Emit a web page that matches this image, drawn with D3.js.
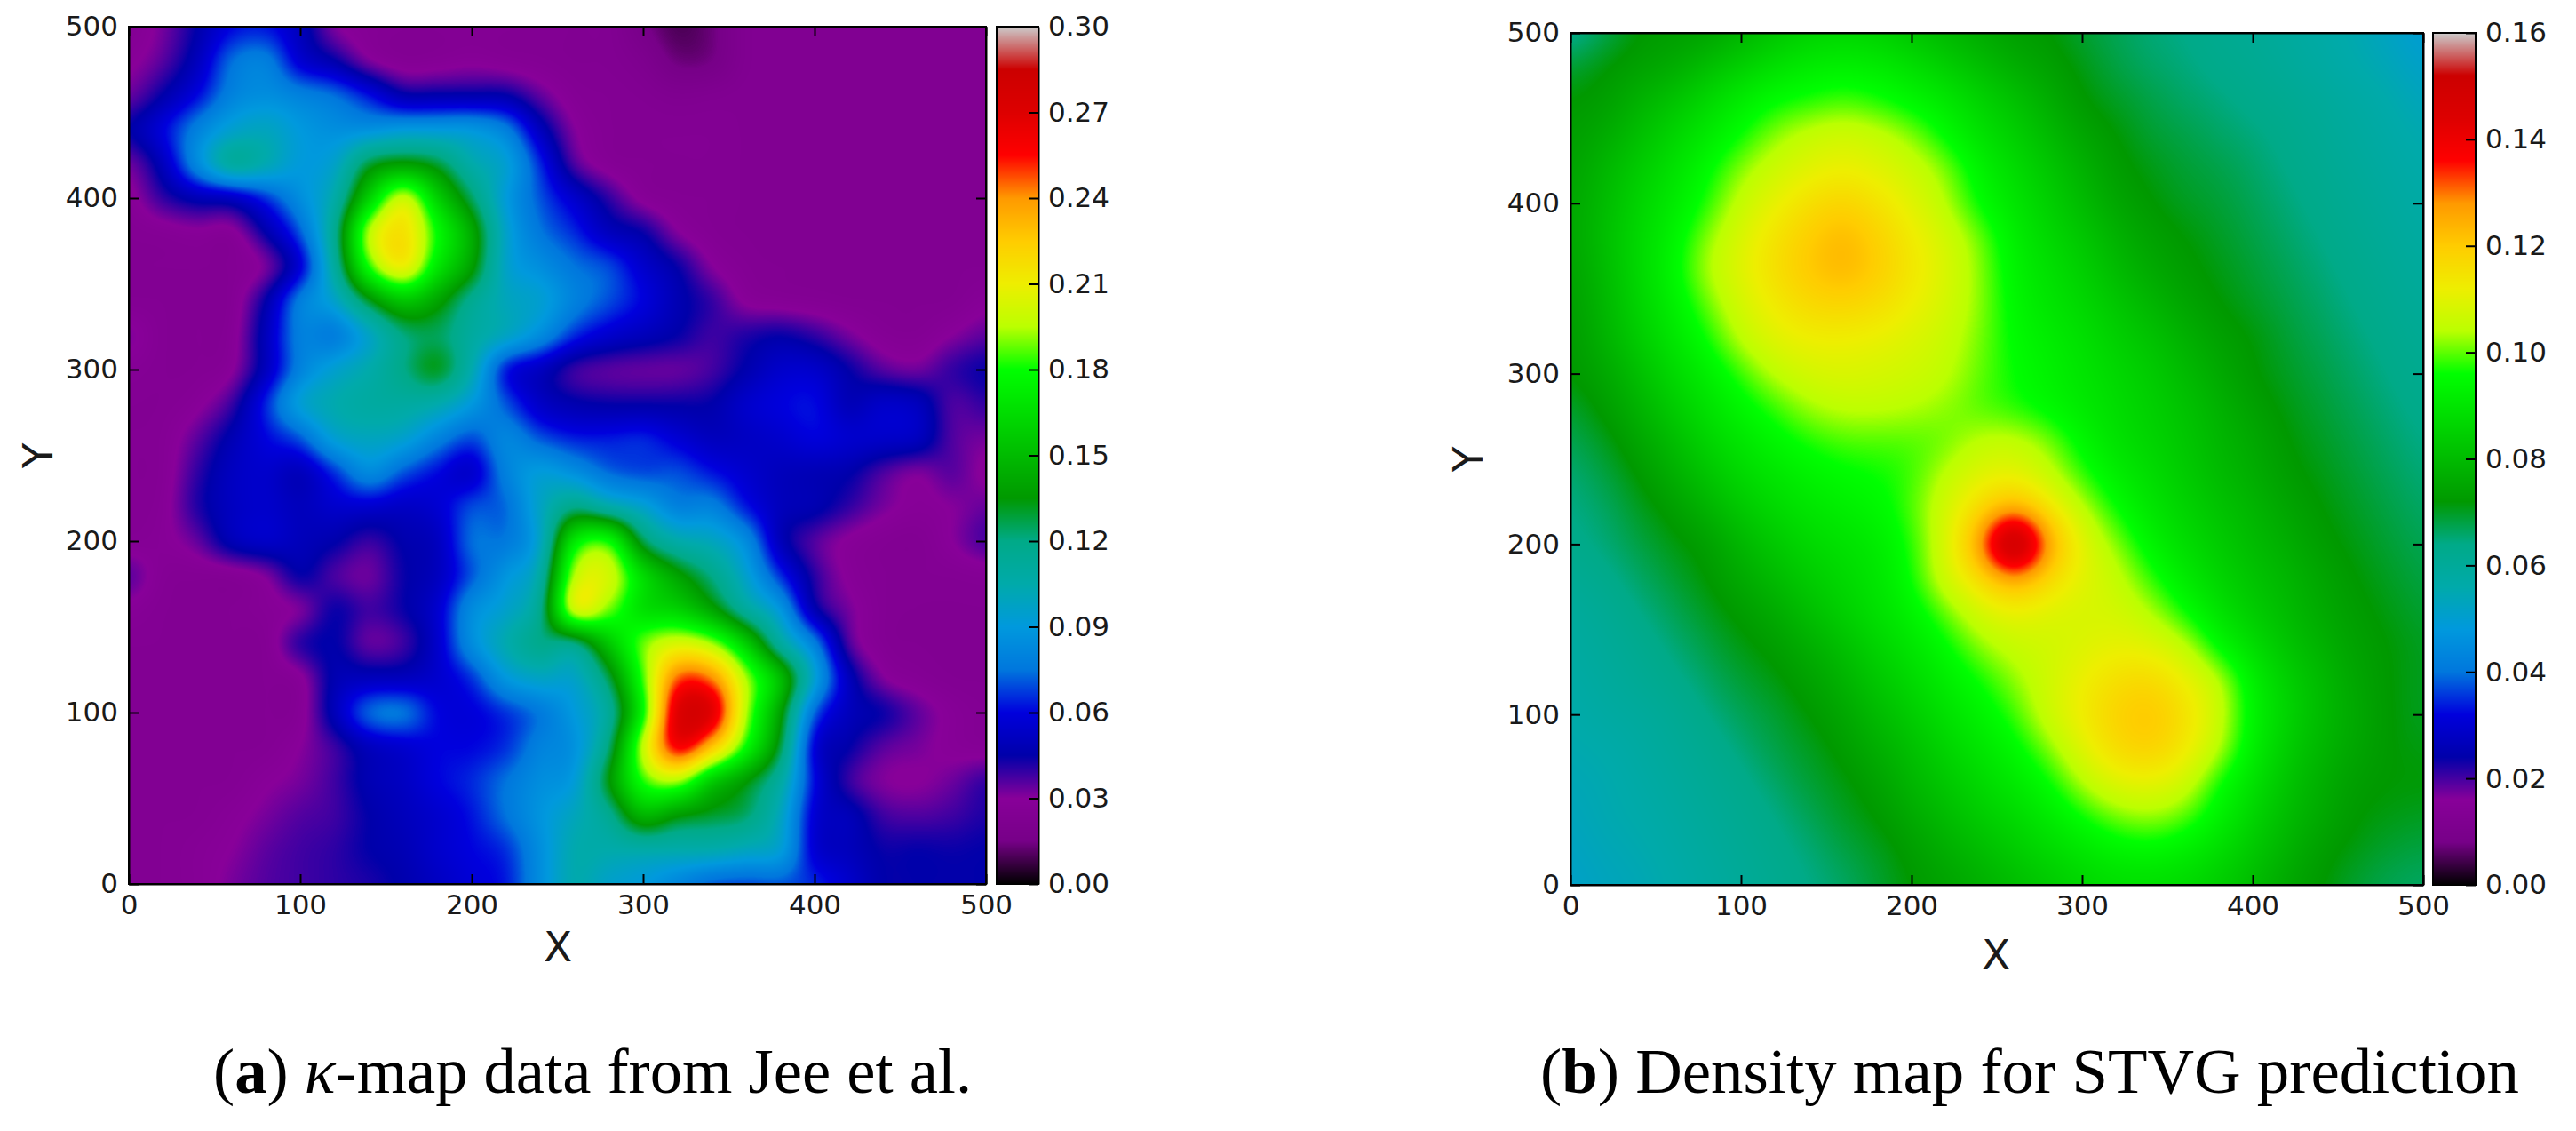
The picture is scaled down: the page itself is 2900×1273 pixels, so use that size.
<!DOCTYPE html>
<html>
<head>
<meta charset="utf-8">
<title>Kappa and density maps</title>
<style>
  html, body { margin: 0; padding: 0; background: #fff; }
  svg { display: block; }
  .axis text { font-family: "DejaVu Sans"; fill: #1a1a1a; }
  .axis path, .axis line { stroke: #000; stroke-width: 2; }
</style>
</head>
<body>
<svg id="svg" width="2900" height="1273"></svg>
<script src="https://d3js.org/d3.v7.min.js"></script>
<script>
// grid positions shared by both maps (data units)
const gridX = d3.range(0, 501, 20)
const gridY = d3.range(500, -1, -20)
const axisTicks = [0, 100, 200, 300, 400, 500]

// panel a, values in units of 0.01, first row is y = 500
const kappaRows = [
  [2.5,3.2,4.5,6,6.2,5,3,2.6,2.5,2.5,2.5,2.5,2.5,2.4,2.4,1.6,0.9,1.3,2.3,2.4,2.4,2.4,2.4,2.4,2.4,2.4],
  [2.8,3.5,5,7.5,8,5.5,4.5,3,2.5,2.6,2.8,2.6,2.5,2.4,2.4,2.1,1.3,1.4,2.3,2.4,2.4,2.4,2.4,2.4,2.4,2.4],
  [3.3,4.5,6,8,8.5,8,7.5,6.2,4.5,4.5,4.5,4.5,3.4,2.6,2.5,2.4,2.2,2.3,2.4,2.4,2.4,2.4,2.4,2.4,2.4,2.4],
  [4.5,6,8,9.5,10,9,8.5,8.5,9,9,9,8,5,3,2.5,2.5,2.5,2.5,2.4,2.4,2.4,2.4,2.4,2.4,2.4,2.4],
  [3.2,5,8.5,11.5,10.5,9,9.5,13,13.8,13,10.5,9.5,6.5,3.5,2.6,2.5,2.5,2.5,2.4,2.4,2.4,2.4,2.4,2.4,2.4,2.4],
  [2.7,4,4.8,5,6.5,8.5,10.5,16,20.5,16,12.5,9,7,5.5,4,2.7,2.5,2.5,2.4,2.4,2.4,2.4,2.4,2.4,2.4,2.4],
  [2.5,2.6,2.8,2.6,4.5,7,11.5,20,22,18,14.5,9.5,7.5,6.5,5,4.5,3,2.5,2.4,2.4,2.4,2.4,2.4,2.4,2.4,2.4],
  [2.5,2.5,2.5,2.5,3,5.5,11,18.5,21.5,17,14,9.5,8.5,7.5,7,5.5,4.5,3,2.5,2.4,2.4,2.4,2.4,2.4,2.4,2.4],
  [2.5,2.5,2.5,2.5,4.5,8,9.5,13,15.5,14,11.5,10,9.5,8,7,6,4.8,4,2.8,2.6,2.5,2.4,2.4,2.4,2.4,2.8],
  [3.2,2.5,2.5,2.6,5,8,7.5,9.5,12,12.5,11,10,8.5,6.5,5.5,5,4.5,3.8,4.2,4.5,4,3.2,2.6,2.5,3,3.5],
  [2.7,2.5,2.5,2.8,5,8,9.5,10.5,12,13.5,10.5,6,5,3.7,3.4,3.3,3.3,3.7,4.6,5.5,5.5,4.5,3.5,3.2,4,4.5],
  [2.5,2.5,2.8,3.8,6.5,9.5,10.5,11,11,10.5,9,7,5.2,4.6,4.4,4.4,4.4,4.5,5.5,6,6.2,4.8,5.5,5.2,3.6,4],
  [2.5,2.6,3.5,4.8,6,7,9.5,10,9.6,8,6.8,8.3,7,6.3,6.3,6.5,5.7,5,5.2,5.5,6,5.6,5.5,5.3,3.6,3.2],
  [2.5,2.6,4,5.2,5.5,4.8,6.5,8.5,7,6,5.2,8,9.3,8.5,7.2,6.8,7,6.2,5.5,5,4.8,4.6,3.6,3,3.6,2.8],
  [2.5,2.7,4.2,5.2,5.5,5,5.5,5.5,5.2,5.6,7,7.2,9.8,12,10.5,9.5,7.8,8,6.2,5,4.8,4,3.2,2.8,3,3.4],
  [2.6,2.8,3.4,5,5.5,5,4.6,3.8,4.6,5,7.5,7.5,9.5,17.5,18.5,12.5,10.5,10,8.5,4.8,3.5,2.8,2.5,2.4,3,3.8],
  [3.6,2.6,2.5,2.5,3,4.6,3.6,3.2,4.4,5,7,8.8,10.5,20,20.5,16.5,14,12,9.5,6.5,4,2.8,2.5,2.5,2.5,2.6],
  [2.8,2.5,2.5,2.5,2.7,3,4.5,3.8,4.4,5.5,8.5,9.5,11.5,21,19,16.5,16,14,11,9,4.5,3.2,2.5,2.4,2.4,2.4],
  [2.5,2.5,2.5,2.5,2.5,4.2,4.6,3.3,3.7,5.4,8.5,10.5,12,11.5,15.5,19,20.5,19.5,16,11,8,3.5,2.5,2.4,2.4,2.4],
  [2.5,2.5,2.5,2.5,2.5,2.7,4.8,5,5,5.5,6.5,9,9.8,9.5,12.5,18.5,25,24.5,19.5,15.5,9.5,5,3,2.6,2.4,2.4],
  [2.5,2.5,2.5,2.5,2.5,2.6,5,7.5,7.8,6,5.8,6.5,7.5,9,11,17.5,27.5,27.5,19.5,14,7,5,4.5,3.5,2.8,2.5],
  [2.5,2.5,2.5,2.5,2.5,3,3.8,5,5.5,6,6,6.5,8,8.5,12,20,26.5,23,18,13,5.5,4.5,3.5,3.2,2.8,2.6],
  [2.5,2.5,2.5,2.5,2.9,3.2,3.8,4.8,5.2,6,6.5,7.5,8.5,9,13.5,18.5,19.5,15.5,13.5,11,6,3.8,3,2.9,3.3,4],
  [2.5,2.5,2.5,2.8,3.2,3.6,3.8,4.5,5,5.5,6.2,7.5,8.8,10,11.5,15,13.5,13,12.5,10,5.5,5,3.8,3.6,3.8,4.2],
  [2.5,2.5,2.7,3,3.5,3.8,4,4.5,4.8,5.5,6,6.5,8.5,10.5,10.5,10.5,10.5,10.5,10,9.5,5.5,5,4.4,4.5,4.4,4.5],
  [2.5,2.5,2.7,3.2,3.6,3.8,4,4.2,4.6,5.2,5.8,6.2,8.5,10.5,9.5,9,8,7,6.8,7,6.5,5.5,4.5,4.5,4.5,4.5]
]

// panel b, same layout
const densityRows = [
  [6.2,6.7,7.2,7.3,7.4,7.8,8.2,8.5,8.6,8.5,8.2,7.9,7.6,7.3,7.2,6.9,6.7,6.5,6.4,6.2,6.1,5.9,5.7,5.5,5.2,4.9],
  [6.9,7.2,7.4,7.6,8.1,8.5,8.9,9.2,9.3,9.2,8.9,8.5,8.1,7.7,7.4,7.1,6.8,6.6,6.5,6.3,6.2,6,5.8,5.6,5.4,5.1],
  [7.2,7.3,7.8,8.2,8.7,9.2,9.6,9.7,9.9,9.7,9.4,9.1,8.6,8.2,7.7,7.2,7,6.8,6.6,6.5,6.3,6.2,6,5.8,5.6,5.3],
  [7.3,7.6,8.1,8.6,9.1,9.6,10.2,10.6,10.8,10.6,10.2,9.5,8.9,8.5,8,7.5,7.2,6.9,6.8,6.6,6.5,6.3,6.1,5.9,5.7,5.5],
  [7.4,7.9,8.4,8.9,9.5,10.2,10.7,11,11.2,11,10.7,10.2,9.3,8.8,8.3,7.8,7.3,7.1,6.9,6.8,6.6,6.4,6.2,6,5.8,5.6],
  [7.5,8,8.6,9.1,9.7,10.6,11.1,11.6,11.9,11.5,11,10.4,9.5,9,8.5,8,7.5,7.2,7,6.9,6.7,6.5,6.3,6.1,5.9,5.7],
  [7.5,8.1,8.7,9.3,10.2,10.9,11.5,12,12.4,11.9,11.3,10.8,10.1,9.2,8.7,8.3,7.8,7.4,7.2,7,6.8,6.6,6.4,6.2,6,5.8],
  [7.4,8,8.7,9.4,10.4,11,11.6,12.1,12.4,12,11.4,10.9,10.2,9.3,8.9,8.5,8,7.6,7.3,7.1,6.9,6.7,6.5,6.3,6.1,5.9],
  [7.3,7.9,8.6,9.2,10,10.8,11.3,11.7,11.8,11.6,11.2,10.8,10.2,9.4,9,8.7,8.3,7.9,7.5,7.2,7,6.8,6.6,6.4,6.2,6],
  [7.2,7.8,8.4,9,9.6,10.5,11,11.2,11.2,11.1,10.9,10.6,10.1,9.5,9.2,8.9,8.5,8.2,7.8,7.4,7.2,6.9,6.7,6.5,6.3,6.1],
  [7.2,7.5,8.1,8.7,9.2,9.8,10.5,10.8,10.9,10.8,10.7,10.5,10,9.6,9.3,9,8.7,8.4,8,7.6,7.2,7,6.8,6.6,6.4,6.2],
  [6.9,7.3,7.8,8.4,8.9,9.4,9.8,10.3,10.5,10.5,10.4,10.2,9.9,9.7,9.4,9.1,8.8,8.5,8.2,7.8,7.4,7.1,6.9,6.7,6.5,6.3],
  [6.7,7,7.5,8,8.6,9,9.4,9.7,9.9,9.9,9.9,10,10.5,10.6,10.2,9.4,8.9,8.6,8.3,7.9,7.6,7.2,7,6.8,6.6,6.4],
  [6.5,6.8,7.2,7.7,8.2,8.7,9,9.3,9.5,9.6,9.8,10.5,11,11.1,10.6,9.8,9.2,8.8,8.4,8,7.7,7.3,7.1,6.9,6.7,6.5],
  [6.4,6.6,7,7.3,7.8,8.3,8.7,9,9.2,9.4,9.9,10.8,11.7,12.7,11.5,10.5,9.6,9,8.6,8.2,7.9,7.5,7.2,7,6.8,6.6],
  [6.3,6.5,6.8,7.1,7.3,7.9,8.3,8.7,8.9,9.1,9.7,10.8,12.7,17.4,12.7,11,10.2,9.3,8.8,8.4,8,7.7,7.3,7.1,6.9,6.7],
  [6.1,6.3,6.6,6.9,7.2,7.6,8,8.4,8.7,9,9.6,10.8,11.6,12.7,11.7,11,10.6,9.8,9.1,8.6,8.2,7.9,7.5,7.2,7,6.8],
  [5.9,6.1,6.4,6.7,7,7.3,7.6,8.1,8.5,8.9,9.3,10,10.8,11.1,10.9,10.8,10.8,10.4,9.6,8.9,8.4,8,7.6,7.3,7.1,6.9],
  [5.8,6,6.2,6.5,6.8,7.1,7.3,7.7,8.1,8.6,9,9.5,10.2,10.6,10.7,10.9,11.1,11,10.6,9.4,8.8,8.2,7.8,7.4,7.2,7],
  [5.7,5.9,6.1,6.3,6.6,6.9,7.1,7.4,7.8,8.3,8.7,9.2,9.6,10.2,10.7,11.2,11.6,11.8,11.2,10.6,9.2,8.5,8,7.5,7.2,7],
  [5.6,5.8,5.9,6.1,6.4,6.7,6.9,7.2,7.5,8,8.4,8.9,9.3,9.8,10.7,11.3,11.9,12.2,11.6,10.7,9.3,8.6,8,7.6,7.2,7],
  [5.5,5.6,5.8,6,6.2,6.5,6.8,7,7.3,7.7,8.1,8.6,9,9.4,10.1,11,11.7,12,11.4,10.5,9.2,8.4,7.9,7.5,7.2,7.1],
  [5.4,5.5,5.7,5.9,6.1,6.3,6.6,6.9,7.1,7.4,7.9,8.3,8.7,9.1,9.5,10.4,11,11.1,10.8,9.6,8.9,8.2,7.7,7.3,7.2,7.2],
  [5.3,5.5,5.6,5.8,6,6.2,6.4,6.7,7,7.2,7.6,8,8.4,8.7,9.1,9.6,10.1,10.3,10,9.3,8.6,8,7.6,7.2,7.1,7],
  [5.2,5.4,5.5,5.7,5.9,6.1,6.3,6.5,6.8,7,7.3,7.7,8,8.4,8.7,9,9.3,9.4,9.2,8.8,8.3,7.8,7.3,7.1,6.9,6.8],
  [5.1,5.3,5.4,5.6,5.8,6,6.2,6.4,6.6,6.9,7.2,7.4,7.7,8,8.3,8.6,8.8,8.8,8.7,8.4,8,7.5,7.2,6.9,6.7,6.6]
]

const kappaBarTicks = [0, 0.03, 0.06, 0.09, 0.12, 0.15, 0.18, 0.21, 0.24, 0.27, 0.30]
const densityBarTicks = [0, 0.02, 0.04, 0.06, 0.08, 0.10, 0.12, 0.14, 0.16]

// nipy_spectral stops
const cmapStops = d3.range(0, 1.01, 0.05)
const cmapColors = ['#000000','#770088','#880099','#0000aa','#0000dd','#0077dd','#0099dd','#00aaaa','#00aa88','#009900',
  '#00bb00','#00dd00','#00ff00','#bbff00','#eeee00','#ffcc00','#ff9900','#ff0000','#dd0000','#cc0000','#cccccc']
const cmap = d3.scaleLinear().domain(cmapStops).range(cmapColors).clamp(true)
const lut = d3.range(1025).map(i => {
  const c = d3.color(cmap(i / 1024))
  return [c.r, c.g, c.b]
})

const FONT = 31
const svg = d3.select('#svg')

// Mitchell-Netravali kernel, used to resample the grid to image pixels
function kernel(x, B, C) {
  x = Math.abs(x)
  if (x < 1) return ((12 - 9 * B - 6 * C) * x * x * x + (-18 + 12 * B + 6 * C) * x * x + (6 - 2 * B)) / 6
  if (x < 2) return ((-B - 6 * C) * x * x * x + (6 * B + 30 * C) * x * x + (-12 * B - 48 * C) * x + (8 * B + 24 * C)) / 6
  return 0
}

function sampleGrid(rows, gx, gy, B, C) {
  const nr = rows.length, nc = rows[0].length
  const ix = Math.floor(gx), iy = Math.floor(gy)
  const tx = gx - ix, ty = gy - iy
  let v = 0
  for (let j = -1; j < 3; j++) {
    const r = rows[Math.min(nr - 1, Math.max(0, iy + j))]
    const wy = kernel(j - ty, B, C)
    for (let i = -1; i < 3; i++) {
      v += wy * kernel(i - tx, B, C) * r[Math.min(nc - 1, Math.max(0, ix + i))]
    }
  }
  return v
}

function drawMap(box, rows, filter, barBox, barTicks, vmax, barFormat, xLabel, yLabel) {
  const w = box.x1 - box.x0, h = box.y1 - box.y0
  const xscale = d3.scaleLinear().domain([0, 500]).range([box.x0, box.x1])
  const yscale = d3.scaleLinear().domain([0, 500]).range([box.y1, box.y0])
  const colX = d3.scaleLinear().domain(d3.extent(gridX)).range([0, gridX.length - 1])
  const rowY = d3.scaleLinear().domain([gridY[0], gridY[gridY.length - 1]]).range([0, gridY.length - 1])
  const norm = d3.scaleLinear().domain([0, vmax]).range([0, 1024]).clamp(true)

  // heat image
  const canvas = document.createElement('canvas')
  canvas.width = w
  canvas.height = h
  const ctx = canvas.getContext('2d')
  const img = ctx.createImageData(w, h)
  for (let j = 0; j < h; j++) {
    const gy = rowY(yscale.invert(box.y0 + j + 0.5))
    for (let i = 0; i < w; i++) {
      const gx = colX(xscale.invert(box.x0 + i + 0.5))
      const v = sampleGrid(rows, gx, gy, filter.B, filter.C) * 0.01
      const c = lut[Math.round(norm(v))]
      const k = (j * w + i) * 4
      img.data[k] = c[0]
      img.data[k + 1] = c[1]
      img.data[k + 2] = c[2]
      img.data[k + 3] = 255
    }
  }
  ctx.putImageData(img, 0, 0)
  svg.append('image')
    .attr('x', box.x0).attr('y', box.y0)
    .attr('width', w).attr('height', h)
    .attr('href', canvas.toDataURL())

  // axes, ticks point inward on all four sides
  const addAxis = (gen, tx, ty, labels) => {
    const g = svg.append('g').attr('class', 'axis')
      .attr('transform', `translate(${tx}, ${ty})`)
      .call(gen.tickValues(axisTicks).tickSizeInner(-11).tickSizeOuter(0).tickPadding(12))
    g.selectAll('text').attr('font-size', FONT)
    if (!labels) g.selectAll('text').remove()
  }
  addAxis(d3.axisBottom(xscale), 0, box.y1, true)
  addAxis(d3.axisLeft(yscale), box.x0, 0, true)
  addAxis(d3.axisTop(xscale), 0, box.y0, false)
  addAxis(d3.axisRight(yscale), box.x1, 0, false)

  svg.append('text')
    .attr('x', xLabel.x).attr('y', xLabel.y)
    .attr('text-anchor', 'middle')
    .attr('font-family', 'DejaVu Sans').attr('font-size', 47).attr('fill', '#1a1a1a')
    .text('X')
  svg.append('text')
    .attr('transform', `translate(${yLabel.x}, ${yLabel.y}) rotate(-90)`)
    .attr('text-anchor', 'middle')
    .attr('font-family', 'DejaVu Sans').attr('font-size', 47).attr('fill', '#1a1a1a')
    .text('Y')

  // colour bar
  const barH = barBox.y1 - barBox.y0
  const barW = barBox.x1 - barBox.x0
  const barScale = d3.scaleLinear().domain([0, vmax]).range([barBox.y1, barBox.y0])
  const barCanvas = document.createElement('canvas')
  barCanvas.width = 1
  barCanvas.height = barH
  const bctx = barCanvas.getContext('2d')
  for (let j = 0; j < barH; j++) {
    bctx.fillStyle = cmap(barScale.invert(barBox.y0 + j + 0.5) / vmax)
    bctx.fillRect(0, j, 1, 1)
  }
  svg.append('image')
    .attr('x', barBox.x0).attr('y', barBox.y0)
    .attr('width', barW).attr('height', barH)
    .attr('preserveAspectRatio', 'none')
    .attr('href', barCanvas.toDataURL())
  const barAxis = svg.append('g').attr('class', 'axis')
    .attr('transform', `translate(${barBox.x1}, 0)`)
    .call(d3.axisRight(barScale).tickValues(barTicks).tickFormat(barFormat)
      .tickSizeInner(-11).tickSizeOuter(0).tickPadding(11))
  barAxis.selectAll('text').attr('font-size', FONT)
  svg.append('rect')
    .attr('x', barBox.x0).attr('y', barBox.y0)
    .attr('width', barW).attr('height', barH)
    .attr('fill', 'none').attr('stroke', '#000').attr('stroke-width', 2)

  svg.append('rect')
    .attr('x', box.x0).attr('y', box.y0)
    .attr('width', w).attr('height', h)
    .attr('fill', 'none').attr('stroke', '#000').attr('stroke-width', 2)
}

drawMap({ x0: 145, x1: 1110, y0: 30, y1: 995 }, kappaRows, { B: 1 / 3, C: 1 / 3 },
  { x0: 1122, x1: 1169, y0: 30, y1: 995 }, kappaBarTicks, 0.30, d3.format('.2f'),
  { x: 628, y: 1082 }, { x: 59, y: 513 })

drawMap({ x0: 1768, x1: 2728, y0: 37, y1: 996 }, densityRows, { B: 1, C: 0 },
  { x0: 2739, x1: 2787, y0: 37, y1: 996 }, densityBarTicks, 0.16, d3.format('.2f'),
  { x: 2247, y: 1091 }, { x: 1669, y: 517 })

// captions
function caption(x, y, size, parts) {
  const t = svg.append('text')
    .attr('x', x).attr('y', y)
    .attr('font-family', 'Liberation Serif').attr('font-size', size).attr('fill', '#000')
  parts.forEach(p => {
    t.append('tspan')
      .attr('font-weight', p.bold ? 'bold' : null)
      .attr('font-style', p.italic ? 'italic' : null)
      .text(p.text)
  })
}
caption(240, 1230, 72.5, [
  { text: '(' }, { text: 'a', bold: true }, { text: ') ' },
  { text: 'κ', italic: true }, { text: '-map data from Jee et al.' }
])
caption(1734, 1230, 72.8, [
  { text: '(' }, { text: 'b', bold: true }, { text: ') Density map for STVG prediction' }
])
</script>
</body>
</html>
